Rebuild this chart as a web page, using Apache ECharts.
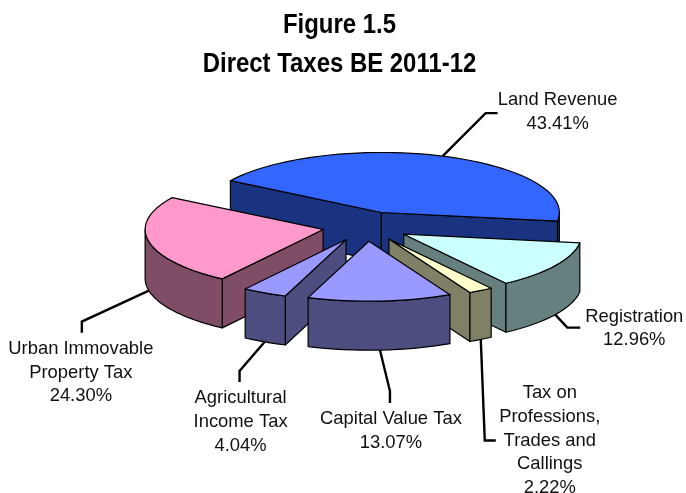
<!DOCTYPE html>
<html>
<head>
<meta charset="utf-8">
<style>html,body{margin:0;padding:0;background:#fff}#c{width:686px;height:493px}</style>
<script src="https://cdn.jsdelivr.net/npm/echarts@6/dist/echarts.min.js"></script>
</head>
<body>
<div id="c"></div>
<script>
// Data (clockwise from the first slice)
var categories = ['Land Revenue', 'Registration', 'Tax on\nProfessions,\nTrades and\nCallings', 'Capital Value Tax', 'Agricultural\nIncome Tax', 'Urban Immovable\nProperty Tax'];
var shares = [43.41, 12.96, 2.22, 13.07, 4.04, 24.30];
var titleLines = ['Figure 1.5', 'Direct Taxes BE 2011-12'];

// Styles
var topColors  = ['#3366ff', '#ccffff', '#ffffcc', '#9999ff', '#9999ff', '#ff99cc'];
var wallColors = ['#1a3380', '#668080', '#808066', '#4d4d80', '#4d4d80', '#804d66'];

// Projection of the 3D pie
var CX = 366.2, CY = 226.4, RX = 178, RY = 60, DEPTH = 49, EXPLODE = 44, START = -58;
// Leader elbows relative to the slice edge, then label centre relative to the leader's end
var leaderSteps = [[[43, -43], [12, 0]], [[12, 13], [13, 0]], [[4, 101], [11, 0]], [[10, 41], [0, 12]], [[-25, 29], [0, 11]], [[-67, 31], [0, 11]]];
var labelShift = [[60, -1], [54, 1], [54, 0], [1, 28], [1, 40], [-1, 40]];
var edgeOnBottom = [false, true, true, true, true, true];

var rad = function (d) { return d * Math.PI / 180; };
var total = shares.reduce(function (a, b) { return a + b; }, 0);
var slices = [], acc = START;
shares.forEach(function (v, i) {
  var sweep = v / total * 360, a0 = acc, a1 = acc + sweep, mid = acc + sweep / 2;
  slices.push({
    a0: a0, a1: a1, mid: mid,
    ax: CX + EXPLODE * Math.sin(rad(mid)),
    ay: CY - EXPLODE * RY / RX * Math.cos(rad(mid))
  });
  acc = a1;
});
// Painter's order: slices further back draw first
var order = slices.map(function (s, i) { return i; }).sort(function (a, b) {
  return Math.cos(rad(slices[b].mid)) - Math.cos(rad(slices[a].mid));
});
function rim(s, deg) {
  return [s.ax + RX * Math.sin(rad(deg)), s.ay - RY * Math.cos(rad(deg))];
}
function arcPts(s, a, b) {
  var n = Math.max(2, Math.ceil((b - a) / 3)), pts = [];
  for (var k = 0; k <= n; k++) pts.push(rim(s, a + (b - a) * k / n));
  return pts;
}
function down(p) { return [p[0], p[1] + DEPTH]; }

function renderSlice(params) {
  var i = params.dataIndex, s = slices[i], rank = order.indexOf(i) + 1, kids = [];
  function poly(pts, fill, z) {
    kids.push({ type: 'polygon', z2: rank * 10 + z, shape: { points: pts },
      style: { fill: fill, stroke: '#000', lineWidth: 1.2, lineJoin: 'round' } });
  }
  var apex = [s.ax, s.ay], wall = wallColors[i];
  var p0 = rim(s, s.a0), p1 = rim(s, s.a1);
  if (Math.sin(rad(s.a0)) < 0) poly([apex, p0, down(p0), down(apex)], wall, 1);
  if (Math.sin(rad(s.a1)) > 0) poly([p1, apex, down(apex), down(p1)], wall, 1);
  // Outer wall: only the arc part that faces the viewer (90..270 degrees)
  var f0 = Math.max(s.a0, 90), f1 = Math.min(s.a1, 270);
  if (f1 > f0) {
    var arc = arcPts(s, f0, f1);
    poly(arc.concat(arc.slice().reverse().map(down)), wall, 2);
  }
  poly([apex].concat(arcPts(s, s.a0, s.a1)), topColors[i], 3);
  return { type: 'group', children: kids };
}

function renderLabel(params) {
  var i = params.dataIndex, s = slices[i];
  var p = rim(s, s.mid);
  if (edgeOnBottom[i]) p = down(p);
  var pts = [p];
  leaderSteps[i].forEach(function (d) {
    var last = pts[pts.length - 1];
    pts.push([last[0] + d[0], last[1] + d[1]]);
  });
  var end = pts[pts.length - 1];
  return { type: 'group', children: [
    { type: 'polyline', z2: 500, shape: { points: pts },
      style: { fill: null, stroke: '#000', lineWidth: 2.4 } },
    { type: 'text', z2: 501, style: {
        x: end[0] + labelShift[i][0], y: end[1] + labelShift[i][1],
        text: categories[i] + '\n' + shares[i].toFixed(2) + '%',
        fill: '#111', fontFamily: '"Liberation Sans", Arial, sans-serif', fontSize: 18.4,
        lineHeight: 23.6, align: 'center', verticalAlign: 'middle' } }
  ] };
}

var seriesData = categories.map(function (c, i) { return { name: c.replace(/\n/g, ' '), value: shares[i] }; });

var chart = echarts.init(document.getElementById('c'), null, { renderer: 'canvas' });
chart.setOption({
  animation: false,
  backgroundColor: '#fff',
  graphic: titleLines.map(function (t, i) {
    return { type: 'text', x: 339.5, y: 25 + i * 39, scaleX: 0.87, z: 5, style: {
      text: t, fill: '#000', fontFamily: '"Liberation Sans", Arial, sans-serif', fontWeight: 'bold',
      fontSize: 27.5, align: 'center', verticalAlign: 'middle' } };
  }),
  series: [
    { type: 'custom', coordinateSystem: 'none', renderItem: renderSlice, data: seriesData, silent: true, z: 2 },
    { type: 'custom', coordinateSystem: 'none', renderItem: renderLabel, data: seriesData, silent: true, z: 3 }
  ]
});
</script>
</body>
</html>
